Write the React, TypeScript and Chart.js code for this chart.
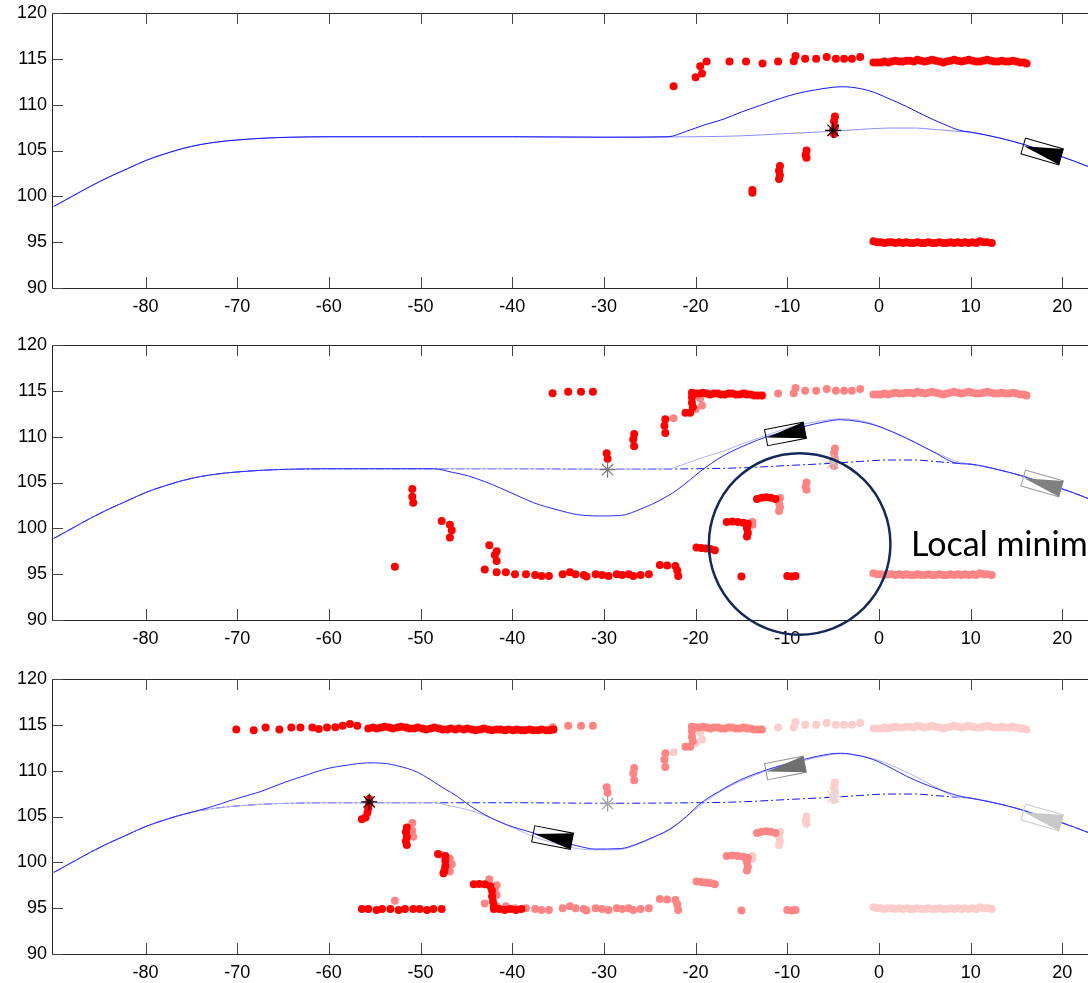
import React, { useEffect, useRef } from "react";
import { Chart, registerables } from "chart.js";

Chart.register(...registerables);

type Pt = [number, number];

// ---------- axes ----------
const xTickValues = [-80, -70, -60, -50, -40, -30, -20, -10, 0, 10, 20, 30];
const yTickValues = [90, 95, 100, 105, 110, 115, 120];
const X_MIN = -90.2;
const X_MAX = 30;
const Y_MIN = 90;
const Y_MAX = 120;

// ---------- reference path (shared) ----------
const refHead: Pt[] = [
  [-90, 98.9], [-88, 100.0], [-86, 101.1], [-84, 102.1], [-82, 103.0], [-80, 103.9],
  [-78, 104.6], [-76, 105.2], [-74, 105.65], [-72, 105.95], [-70, 106.15], [-67, 106.35],
  [-64, 106.45], [-60, 106.5], [-50, 106.5], [-40, 106.5], [-30, 106.45], [-20, 106.5],
  [-15, 106.6], [-10, 106.85], [-5, 107.1], [-2, 107.3], [1, 107.45], [4, 107.45],
  [6, 107.3], [8.5, 107.1],
];
const tailPts: Pt[] = [
  [10, 107.0], [13, 106.4], [16, 105.6], [18, 104.9], [20, 104.3], [22.7, 103.3],
  [26, 101.9], [30, 100.2],
];

// ---------- planned paths (divergent parts) ----------
const path1Mid: Pt[] = [
  [-23, 106.5], [-21, 107.1], [-19, 107.8], [-17, 108.4], [-15, 109.2], [-13, 109.9],
  [-11, 110.6], [-9, 111.2], [-7, 111.6], [-5, 111.9], [-4, 111.95], [-3, 111.9],
  [-1, 111.5], [1, 110.7], [3, 109.8], [5, 108.8], [7, 107.9], [8.8, 107.2],
];
const path2Mid: Pt[] = [
  [-48.6, 106.5], [-46.5, 106.1], [-44.9, 105.75], [-43, 105.1], [-41.3, 104.4],
  [-39.5, 103.6], [-37.7, 102.8], [-35, 102.0], [-32.9, 101.5], [-30.5, 101.35],
  [-28.2, 101.4], [-26, 102.1], [-24, 103.0], [-22, 104.2], [-20.6, 105.3],
  [-19.5, 106.2], [-17, 107.9], [-14.5, 109.1], [-12.2, 110.0], [-10, 110.6],
  [-8.2, 111.1], [-6, 111.6], [-4.2, 111.85], [-2.5, 111.7], [-0.6, 111.3],
  [2, 110.3], [4.1, 109.3], [6, 108.3], [8.5, 107.1],
];
const path3Mid: Pt[] = [
  [-73, 106.0], [-70.4, 106.85], [-67.5, 107.7], [-64.9, 108.7], [-62.5, 109.5],
  [-60.3, 110.2], [-58, 110.6], [-55.8, 110.85], [-54, 110.8], [-52.4, 110.5],
  [-50.5, 109.9], [-48.9, 109.0], [-47.5, 108.1], [-46, 107.2], [-44.5, 106.1],
  [-43, 105.2], [-40.6, 104.1], [-37.7, 103.2], [-35, 102.3], [-32.9, 101.8],
  [-31, 101.45], [-28.2, 101.5], [-26.4, 102.0], [-24.5, 102.8], [-22.8, 103.6],
  [-21, 105.0], [-19.5, 106.4], [-17.5, 107.7], [-15.1, 109.0], [-11.9, 110.2],
  [-9.5, 110.9], [-7.9, 111.3], [-5.5, 111.8], [-4.2, 111.9], [-2, 111.6],
  [-0.6, 111.2], [1.5, 110.2], [3.0, 109.4], [4.8, 108.6], [6.7, 107.9], [8.5, 107.3],
];
const departX = [-23, -48.6, -75];

// ---------- obstacle scans ----------
const scan1: Pt[] = [
  // sparse top
  [-22.4, 112.0], [-20.0, 113.0], [-19.3, 113.4], [-19.5, 114.2], [-18.8, 114.7],
  [-16.3, 114.7], [-14.5, 114.7], [-12.7, 114.5], [-11.0, 114.7], [-9.3, 114.75],
  [-9.1, 115.3], [-8.05, 115.0], [-6.85, 115.0], [-5.7, 115.2], [-4.7, 115.0],
  [-3.8, 115.0], [-2.95, 115.0], [-2.05, 115.2],
  // dense top
  [-0.6, 114.6], [-0.2, 114.6], [0.2, 114.6], [0.6, 114.7], [1.0, 114.6], [1.4, 114.7],
  [1.8, 114.8], [2.2, 114.7], [2.6, 114.7], [3.0, 114.8], [3.4, 114.8], [3.8, 114.7],
  [4.2, 114.9], [4.6, 114.8], [5.0, 114.7], [5.4, 114.8], [5.8, 114.9], [6.2, 114.8],
  [6.6, 114.7], [7.0, 114.6], [7.4, 114.7], [7.8, 114.8], [8.2, 114.9], [8.6, 114.8],
  [9.0, 114.7], [9.4, 114.8], [9.8, 114.9], [10.2, 114.8], [10.6, 114.7], [11.0, 114.7],
  [11.4, 114.8], [11.8, 114.9], [12.2, 114.8], [12.6, 114.7], [13.0, 114.7], [13.4, 114.8],
  [13.8, 114.7], [14.2, 114.7], [14.6, 114.8], [15.0, 114.7], [15.4, 114.6], [15.8, 114.6],
  [16.1, 114.5],
  // bottom row
  [-0.6, 95.1], [-0.2, 95.0], [0.2, 95.0], [0.6, 94.9], [1.0, 95.0], [1.4, 95.0],
  [1.8, 94.9], [2.2, 95.0], [2.6, 94.9], [3.0, 95.0], [3.4, 94.9], [3.8, 94.9],
  [4.2, 95.0], [4.6, 94.9], [5.0, 94.9], [5.4, 95.0], [5.8, 94.9], [6.2, 94.9],
  [6.6, 95.0], [7.0, 94.9], [7.4, 94.9], [7.8, 95.0], [8.2, 94.9], [8.6, 95.0],
  [9.0, 94.9], [9.4, 95.0], [9.8, 94.9], [10.2, 95.0], [10.6, 94.9], [11.0, 95.1],
  [11.4, 95.0], [11.8, 95.0], [12.3, 94.9],
  // middle
  [-13.8, 100.4], [-13.8, 100.7], [-10.8, 103.3], [-10.9, 102.8], [-10.8, 102.3],
  [-10.9, 101.9], [-7.9, 105.0], [-8.0, 104.5], [-7.9, 104.2], [-4.8, 108.7],
  [-4.9, 108.2], [-4.8, 107.6], [-5.0, 107.2], [-4.9, 106.8],
];

const scan2: Pt[] = [
  [-35.6, 114.75], [-33.9, 114.9], [-32.5, 114.9], [-31.2, 114.9],
  [-20.4, 114.8], [-20.0, 114.7], [-19.6, 114.7], [-19.2, 114.8], [-18.8, 114.7],
  [-18.4, 114.6], [-18.0, 114.7], [-17.6, 114.7], [-17.2, 114.6], [-16.8, 114.6],
  [-16.4, 114.7], [-16.0, 114.7], [-15.6, 114.6], [-15.2, 114.6], [-14.8, 114.7],
  [-14.4, 114.6], [-14.0, 114.6], [-13.6, 114.5], [-13.2, 114.5], [-12.8, 114.5],
  [-20.4, 114.3], [-20.4, 113.7], [-20.3, 113.2], [-20.6, 112.6], [-21.1, 112.6],
  [-23.3, 111.9], [-23.4, 111.2], [-23.3, 110.4],
  [-26.7, 110.3], [-26.8, 109.7], [-26.7, 108.95],
  [-29.7, 108.2], [-29.6, 107.6],
  [-13.3, 103.2], [-12.8, 103.35], [-12.3, 103.4], [-11.8, 103.35], [-11.3, 103.2],
  [-16.6, 100.7], [-16.0, 100.75], [-15.4, 100.7], [-14.8, 100.6], [-14.3, 100.5],
  [-14.4, 100.0], [-14.3, 99.5], [-14.4, 99.1],
  [-19.9, 97.9], [-19.4, 97.85], [-18.9, 97.8], [-18.4, 97.75], [-17.9, 97.6],
  [-15.0, 94.75], [-10.0, 94.8], [-9.5, 94.75], [-9.1, 94.8],
  [-52.8, 95.8], [-50.9, 104.3], [-50.9, 103.45], [-50.8, 102.8],
  [-47.7, 100.8], [-46.8, 100.4], [-46.6, 99.8], [-46.8, 99.0],
  [-42.5, 98.15], [-41.7, 97.5], [-41.9, 97.1], [-41.7, 96.45], [-43.0, 95.5],
  [-41.7, 95.2], [-40.7, 95.2], [-39.7, 95.0], [-38.5, 95.0], [-37.5, 94.9],
  [-36.8, 94.8], [-36.0, 94.8], [-34.5, 95.0], [-33.7, 95.2], [-33.1, 95.0],
  [-32.2, 94.9], [-31.9, 94.75], [-30.9, 95.0], [-30.2, 94.9], [-29.5, 94.8],
  [-28.6, 95.0], [-28.0, 94.9], [-27.3, 95.0], [-26.8, 94.8], [-26.0, 94.9],
  [-25.1, 95.0],
  [-23.9, 96.0], [-23.1, 95.95], [-22.2, 95.9], [-22.0, 95.4], [-21.9, 94.8],
];

const scan3: Pt[] = [
  [-70.1, 114.5], [-68.2, 114.4], [-66.9, 114.7], [-65.4, 114.5], [-64.1, 114.7],
  [-63.1, 114.7], [-61.8, 114.7], [-61.1, 114.55], [-60.2, 114.7], [-59.3, 114.75],
  [-58.5, 114.9], [-57.7, 115.1], [-56.9, 114.9],
  [-55.7, 114.6], [-55.2, 114.7], [-54.8, 114.6], [-54.3, 114.7], [-53.9, 114.8],
  [-53.4, 114.7], [-53.0, 114.6], [-52.5, 114.7], [-52.1, 114.8], [-51.6, 114.7],
  [-51.2, 114.6], [-50.7, 114.6], [-50.3, 114.7], [-49.8, 114.6], [-49.4, 114.5],
  [-48.9, 114.6], [-48.5, 114.7], [-48.0, 114.6], [-47.6, 114.5], [-47.1, 114.5],
  [-46.7, 114.6], [-46.2, 114.5], [-45.8, 114.6], [-45.3, 114.5], [-44.9, 114.6],
  [-44.4, 114.5], [-44.0, 114.4], [-43.5, 114.5], [-43.1, 114.6], [-42.6, 114.5],
  [-42.2, 114.4], [-41.7, 114.5], [-41.3, 114.5], [-40.8, 114.4], [-40.4, 114.5],
  [-39.9, 114.4], [-39.5, 114.5], [-39.0, 114.4], [-38.6, 114.4], [-38.1, 114.5],
  [-37.7, 114.4], [-37.2, 114.4], [-36.8, 114.5], [-36.3, 114.4], [-35.9, 114.4],
  [-35.5, 114.5],
  [-56.4, 94.9], [-55.7, 94.9], [-54.8, 94.8], [-54.2, 94.9], [-53.3, 94.9],
  [-52.4, 94.8], [-51.7, 94.9], [-50.8, 94.9], [-50.1, 94.9], [-49.3, 94.8],
  [-48.6, 94.9], [-47.7, 94.9],
  [-42.0, 94.9], [-41.4, 94.9], [-40.8, 94.8], [-40.2, 94.9], [-39.6, 94.8], [-39.0, 94.9],
  [-44.2, 97.6], [-43.6, 97.65], [-43.0, 97.6], [-42.4, 97.4], [-42.2, 96.9],
  [-42.2, 96.3], [-42.1, 95.7], [-42.0, 95.2],
  [-48.1, 100.9], [-47.3, 100.7], [-47.3, 100.2], [-47.3, 99.6], [-47.4, 99.1], [-47.5, 98.8],
  [-51.5, 103.8], [-51.6, 103.3], [-51.5, 102.8], [-51.6, 102.3], [-51.5, 101.9],
  [-55.6, 106.9], [-55.6, 106.4], [-55.7, 105.9], [-55.8, 105.4], [-56.0, 104.9], [-56.4, 104.7],
];

// ---------- goal stars and vehicle poses ----------
const starPts: Pt[] = [[-5.0, 107.2], [-29.6, 106.4], [-55.6, 106.6]];
const carX = [17.8, -10.2, -35.6];
const carY = [104.9, 110.3, 102.7];
const carHeading = [-16, 11, -11];

// ---------- annotation ----------
const circleCenter: Pt = [-8.65, 98.3];
const circleRadius = 9.9;
const noteText = "Local minimum";
const notePos: Pt = [3.5, 97.0];

// ---------- styles ----------
const CANVAS_W = 1174;
const CANVAS_H = 333;
const PANEL_TOPS = [0, 332, 666];
const CAR_LENGTH = 4.3;
const CAR_WIDTH = 1.8;
const TICK_LEN = 11;
const FONT = "'Liberation Sans', Arial, sans-serif";

const toXY = (pts: Pt[]) => pts.map(([x, y]) => ({ x, y }));
const refFull: Pt[] = [...refHead, ...tailPts];
const withPrefix = (dx: number, mid: Pt[]): Pt[] => [
  ...refHead.filter((p) => p[0] < dx),
  ...mid,
  ...tailPts,
];
const paths = [
  withPrefix(departX[0], path1Mid),
  withPrefix(departX[1], path2Mid),
  withPrefix(departX[2], path3Mid),
];

const lineDs = (pts: Pt[], color: string, dash: number[] = [], width = 1) => ({
  data: toXY(pts),
  showLine: true,
  borderColor: color,
  borderWidth: width,
  borderDash: dash,
  pointRadius: 0,
  cubicInterpolationMode: "monotone",
  fill: false,
});
const scanDs = (pts: Pt[], color: string) => ({
  data: toXY(pts),
  showLine: false,
  pointRadius: 4,
  pointBackgroundColor: color,
  pointBorderWidth: 0,
  pointBorderColor: color,
});
const starDs = (pt: Pt, color: string) => ({
  data: toXY([pt]),
  showLine: false,
  pointStyle: "star",
  pointRadius: 8,
  pointBorderColor: color,
  pointBorderWidth: 1.2,
  pointBackgroundColor: color,
});

type CarStyle = { stroke: string; fill: string };

const panelSpecs = [
  {
    datasets: [
      starDs(starPts[0], "#000000"),
      scanDs(scan1, "#ff0000"),
      lineDs(paths[0], "rgb(20,20,255)"),
      lineDs(refFull, "rgb(140,140,255)"),
    ],
    cars: [{ i: 0, style: { stroke: "#000", fill: "#000" } }],
    note: false,
  },
  {
    datasets: [
      starDs(starPts[1], "#777777"),
      starDs(starPts[0], "#c8c8c8"),
      scanDs(scan2, "#ff0000"),
      scanDs(scan1, "#ff8484"),
      lineDs(paths[1], "rgb(40,40,255)"),
      lineDs(paths[0], "rgb(175,175,255)"),
      lineDs(refFull, "rgb(20,20,255)", [8, 3, 2, 3]),
    ],
    cars: [
      { i: 0, style: { stroke: "#999", fill: "#808080" } },
      { i: 1, style: { stroke: "#000", fill: "#000" } },
    ],
    note: true,
  },
  {
    datasets: [
      starDs(starPts[2], "#000000"),
      starDs(starPts[1], "#a0a0a0"),
      starDs(starPts[0], "#dcdcdc"),
      scanDs(scan3, "#ff0000"),
      scanDs(scan2, "#ff8484"),
      scanDs(scan1, "#ffcccc"),
      lineDs(paths[2], "rgb(40,40,255)"),
      lineDs(paths[1], "rgb(175,175,255)"),
      lineDs(refFull, "rgb(20,20,255)", [8, 3, 2, 3]),
    ],
    cars: [
      { i: 0, style: { stroke: "#c8c8c8", fill: "#c8c8c8" } },
      { i: 1, style: { stroke: "#909090", fill: "#707070" } },
      { i: 2, style: { stroke: "#000", fill: "#000" } },
    ],
    note: false,
  },
];

function makeOverlay(spec: (typeof panelSpecs)[number]) {
  return {
    id: "overlay",
    afterDatasetsDraw(chart: any) {
      const { ctx, chartArea: a, scales } = chart;
      const x = scales.x;
      const y = scales.y;
      ctx.save();
      // frame
      ctx.strokeStyle = "#262626";
      ctx.lineWidth = 1;
      ctx.strokeRect(Math.round(a.left) + 0.5, Math.round(a.top) + 0.5, a.right - a.left, Math.round(a.bottom - a.top));
      // inward ticks
      ctx.beginPath();
      ctx.strokeStyle = "#444";
      xTickValues.forEach((v) => {
        const px = Math.round(x.getPixelForValue(v)) + 0.5;
        ctx.moveTo(px, a.bottom);
        ctx.lineTo(px, a.bottom - TICK_LEN);
        ctx.moveTo(px, a.top);
        ctx.lineTo(px, a.top + TICK_LEN);
      });
      yTickValues.forEach((v) => {
        const py = Math.round(y.getPixelForValue(v)) + 0.5;
        ctx.moveTo(a.left, py);
        ctx.lineTo(a.left + TICK_LEN, py);
        ctx.moveTo(a.right, py);
        ctx.lineTo(a.right - TICK_LEN, py);
      });
      ctx.stroke();
      // vehicles
      const ppx = Math.abs(x.getPixelForValue(1) - x.getPixelForValue(0));
      const ppy = Math.abs(y.getPixelForValue(1) - y.getPixelForValue(0));
      const L = CAR_LENGTH * ppx;
      const W = CAR_WIDTH * ppy;
      spec.cars.forEach(({ i, style }: { i: number; style: CarStyle }) => {
        ctx.save();
        ctx.translate(x.getPixelForValue(carX[i]), y.getPixelForValue(carY[i]));
        ctx.rotate((-carHeading[i] * Math.PI) / 180);
        ctx.lineWidth = 1;
        ctx.strokeStyle = style.stroke;
        ctx.strokeRect(-L / 2, -W / 2, L, W);
        ctx.fillStyle = style.fill;
        ctx.beginPath();
        ctx.moveTo(-L / 2 + 1, 0);
        ctx.lineTo(L / 2, -W / 2);
        ctx.lineTo(L / 2, W / 2);
        ctx.closePath();
        ctx.fill();
        ctx.restore();
      });
      ctx.restore();
    },
    afterDraw(chart: any) {
      if (!spec.note) return;
      const { ctx, scales } = chart;
      const x = scales.x;
      const y = scales.y;
      ctx.save();
      const cx = x.getPixelForValue(circleCenter[0]);
      const cy = y.getPixelForValue(circleCenter[1]);
      const r = Math.abs(x.getPixelForValue(circleRadius) - x.getPixelForValue(0));
      ctx.strokeStyle = "#14285a";
      ctx.lineWidth = 2.5;
      ctx.beginPath();
      ctx.arc(cx, cy, r, 0, Math.PI * 2);
      ctx.stroke();
      ctx.fillStyle = "#000";
      ctx.font = "34px Lato, 'Open Sans', sans-serif";
      ctx.textAlign = "left";
      ctx.textBaseline = "alphabetic";
      ctx.fillText(noteText, x.getPixelForValue(notePos[0]), y.getPixelForValue(notePos[1]));
      ctx.restore();
    },
  };
}

function buildConfig(idx: number): any {
  const spec = panelSpecs[idx];
  return {
    type: "scatter",
    data: { datasets: spec.datasets },
    plugins: [makeOverlay(spec)],
    options: {
      animation: false,
      responsive: false,
      maintainAspectRatio: false,
      devicePixelRatio: 1,
      events: [],
      layout: { padding: { left: 0, right: 20, top: 13, bottom: 0 } },
      plugins: { legend: { display: false }, tooltip: { enabled: false } },
      scales: {
        x: {
          type: "linear",
          min: X_MIN,
          max: X_MAX,
          grid: { display: false, drawTicks: false, tickLength: 0 },
          border: { display: false },
          afterBuildTicks: (s: any) => {
            s.ticks = xTickValues.map((v) => ({ value: v }));
          },
          afterFit: (s: any) => {
            s.height = 45;
            s.paddingLeft = 0;
            s.paddingRight = 0;
          },
          ticks: {
            autoSkip: false,
            maxRotation: 0,
            padding: 8,
            color: "#000",
            font: { family: FONT, size: 18 },
          },
        },
        y: {
          type: "linear",
          min: Y_MIN,
          max: Y_MAX,
          grid: { display: false, drawTicks: false, tickLength: 0 },
          border: { display: false },
          afterBuildTicks: (s: any) => {
            s.ticks = yTickValues.map((v) => ({ value: v }));
          },
          afterFit: (s: any) => {
            s.width = 52;
            s.paddingTop = 0;
            s.paddingBottom = 0;
          },
          ticks: {
            autoSkip: false,
            padding: 5,
            color: "#000",
            font: { family: FONT, size: 18 },
          },
        },
      },
    },
  };
}

function Panel({ idx }: { idx: number }) {
  const ref = useRef<HTMLCanvasElement>(null);
  useEffect(() => {
    if (!ref.current) return;
    const chart = new Chart(ref.current, buildConfig(idx));
    return () => chart.destroy();
  }, [idx]);
  return (
    <canvas
      ref={ref}
      width={CANVAS_W}
      height={CANVAS_H}
      style={{
        position: "absolute",
        left: 0,
        top: PANEL_TOPS[idx],
        width: CANVAS_W,
        height: CANVAS_H,
      }}
    />
  );
}

export default function App() {
  return (
    <div
      style={{
        position: "fixed",
        left: 0,
        top: 0,
        width: 1088,
        height: 983,
        overflow: "hidden",
        background: "#ffffff",
      }}
    >
      <Panel idx={0} />
      <Panel idx={1} />
      <Panel idx={2} />
    </div>
  );
}
